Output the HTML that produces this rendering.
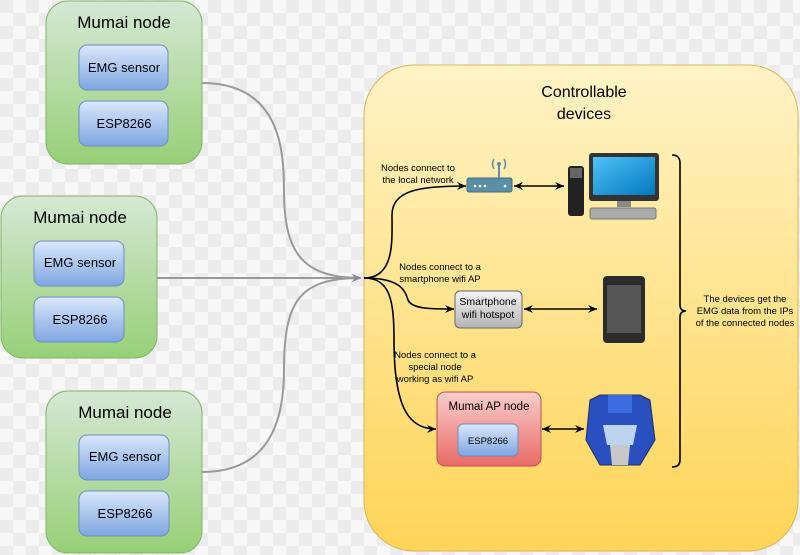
<!DOCTYPE html>
<html><head><meta charset="utf-8"><style>
html,body{margin:0;padding:0;width:800px;height:555px;overflow:hidden;background:#f4f4f4}
svg{display:block;font-family:"Liberation Sans",sans-serif}
</style></head><body>
<svg width="800" height="555" viewBox="0 0 800 555" xmlns="http://www.w3.org/2000/svg">
<defs>
<pattern id="ck" width="26" height="26" patternUnits="userSpaceOnUse">
<rect width="26" height="26" fill="#f7f7f7"/><rect width="13" height="13" fill="#ececec"/><rect x="13" y="13" width="13" height="13" fill="#ececec"/>
</pattern>
<linearGradient id="gn" x1="0" y1="0" x2="0" y2="1"><stop offset="0" stop-color="#d5e8d4"/><stop offset="1" stop-color="#97d077"/></linearGradient>
<linearGradient id="bl" x1="0" y1="0" x2="0" y2="1"><stop offset="0" stop-color="#dae8fc"/><stop offset="1" stop-color="#7ea6e0"/></linearGradient>
<linearGradient id="yl" x1="0" y1="0" x2="0" y2="1"><stop offset="0" stop-color="#fff3c6"/><stop offset="1" stop-color="#ffd457"/></linearGradient>
<linearGradient id="rd" x1="0" y1="0" x2="0" y2="1"><stop offset="0" stop-color="#f8cecc"/><stop offset="1" stop-color="#ea6b66"/></linearGradient>
<linearGradient id="gy" x1="0" y1="0" x2="0" y2="1"><stop offset="0" stop-color="#f5f5f5"/><stop offset="1" stop-color="#b3b3b3"/></linearGradient>
<linearGradient id="scr" x1="0" y1="0" x2="1" y2="1"><stop offset="0" stop-color="#4fc3f7"/><stop offset="1" stop-color="#0277bd"/></linearGradient>
<marker id="ga" markerWidth="10" markerHeight="10" refX="9" refY="5" orient="auto" markerUnits="userSpaceOnUse"><path d="M0,1 L9,5 L0,9 L3,5z" fill="#888"/></marker>
<marker id="ba" markerWidth="10" markerHeight="10" refX="9" refY="5" orient="auto" markerUnits="userSpaceOnUse"><path d="M0,1 L9,5 L0,9 L3,5z" fill="#000"/></marker>
<marker id="bs" markerWidth="10" markerHeight="10" refX="1" refY="5" orient="auto" markerUnits="userSpaceOnUse"><path d="M10,1 L1,5 L10,9 L7,5z" fill="#000"/></marker>
</defs>
<rect width="800" height="555" fill="url(#ck)"/>

<rect x="364" y="65" width="434" height="486" rx="50" fill="url(#yl)" stroke="#d6b656"/>
<text x="584" y="97" font-size="16" text-anchor="middle">Controllable</text>
<text x="584" y="119" font-size="16" text-anchor="middle">devices</text>

<g>
<rect x="46" y="1" width="156" height="163" rx="22" fill="url(#gn)" stroke="#82b366"/>
<text x="124" y="28" font-size="17" text-anchor="middle">Mumai node</text>
<rect x="79" y="45" width="89" height="45" rx="8" fill="url(#bl)" stroke="#6c8ebf"/>
<text x="124" y="72" font-size="13" text-anchor="middle">EMG sensor</text>
<rect x="79" y="101" width="89" height="45" rx="8" fill="url(#bl)" stroke="#6c8ebf"/>
<text x="124" y="128" font-size="13" text-anchor="middle">ESP8266</text>
</g>
<g>
<rect x="1" y="196" width="156" height="162" rx="22" fill="url(#gn)" stroke="#82b366"/>
<text x="80" y="223" font-size="17" text-anchor="middle">Mumai node</text>
<rect x="34" y="241" width="90" height="45" rx="8" fill="url(#bl)" stroke="#6c8ebf"/>
<text x="80" y="267" font-size="13" text-anchor="middle">EMG sensor</text>
<rect x="34" y="297" width="90" height="45" rx="8" fill="url(#bl)" stroke="#6c8ebf"/>
<text x="80" y="324" font-size="13" text-anchor="middle">ESP8266</text>
</g>
<g>
<rect x="46" y="391" width="156" height="162" rx="22" fill="url(#gn)" stroke="#82b366"/>
<text x="125" y="418" font-size="17" text-anchor="middle">Mumai node</text>
<rect x="79" y="435" width="90" height="45" rx="8" fill="url(#bl)" stroke="#6c8ebf"/>
<text x="125" y="461" font-size="13" text-anchor="middle">EMG sensor</text>
<rect x="79" y="491" width="90" height="45" rx="8" fill="url(#bl)" stroke="#6c8ebf"/>
<text x="125" y="518" font-size="13" text-anchor="middle">ESP8266</text>
</g>

<g fill="none" stroke="#999" stroke-width="2">
<path d="M202,83 C280,83 284,150 284,190 C284,250 300,278 361,278" marker-end="url(#ga)"/>
<path d="M157,278 L361,278" marker-end="url(#ga)"/>
<path d="M202,472 C270,472 284,420 284,370 C284,300 300,278 361,278" marker-end="url(#ga)"/>
</g>

<g fill="none" stroke="#000" stroke-width="1.6">
<path d="M364,278 C395,278 392,240 392,215 C392,190 420,186 466,186" marker-end="url(#ba)"/>
<path d="M364,278 C400,278 405,290 408,300 C412,309 430,309 454,309" marker-end="url(#ba)"/>
<path d="M364,278 C390,278 394,300 394,340 C394,410 410,429 436,429" marker-end="url(#ba)"/>
<path d="M514,186 L564,186" marker-start="url(#bs)" marker-end="url(#ba)"/>
<path d="M524,309 L597,309" marker-start="url(#bs)" marker-end="url(#ba)"/>
<path d="M542,429 L584,429" marker-start="url(#bs)" marker-end="url(#ba)"/>
<path d="M672,155 Q680,155 680,163 L680,305 Q680,311 686,311 Q680,311 680,317 L680,460 Q680,467 672,467"/>
</g>

<g font-size="9.5" text-anchor="middle">
<text x="418" y="171">Nodes connect to</text>
<text x="418" y="183">the local network</text>
<text x="440" y="270">Nodes connect to a</text>
<text x="440" y="282">smartphone wifi AP</text>
<text x="435" y="358">Nodes connect to a</text>
<text x="435" y="370">special node</text>
<text x="435" y="382">working as wifi AP</text>
<text x="745" y="302">The devices get the</text>
<text x="745" y="314">EMG data from the IPs</text>
<text x="745" y="326">of the connected nodes</text>
</g>

<rect x="467" y="178" width="45" height="14" rx="2" fill="#5b8fa8" stroke="#3d6c80"/>
<circle cx="475" cy="186" r="1.3" fill="#fff"/><circle cx="480" cy="186" r="1.3" fill="#fff"/><circle cx="485" cy="186" r="1.3" fill="#fff"/><circle cx="505" cy="186" r="1.3" fill="#fff"/>
<line x1="499" y1="178" x2="499" y2="165" stroke="#5b8fa8" stroke-width="2"/>
<circle cx="499" cy="164" r="2" fill="#5b8fa8"/>
<path d="M494,159 Q491,164 494,169 M504,159 Q507,164 504,169" stroke="#5b8fa8" fill="none" stroke-width="1.5"/>

<rect x="568" y="166" width="16" height="50" rx="3" fill="#222"/>
<rect x="570" y="168" width="12" height="10" fill="#666"/>
<rect x="589" y="153" width="70" height="48" rx="3" fill="#333"/>
<rect x="593" y="157" width="62" height="38" fill="url(#scr)"/>
<rect x="617" y="201" width="14" height="6" fill="#888"/>
<rect x="590" y="208" width="66" height="11" rx="2" fill="#aaa" stroke="#777"/>

<rect x="455" y="291" width="67" height="37" rx="5" fill="url(#gy)" stroke="#666"/>
<text x="488" y="305" font-size="10.5" text-anchor="middle">Smartphone</text>
<text x="488" y="318" font-size="10.5" text-anchor="middle">wifi hotspot</text>

<rect x="603" y="276" width="42" height="67" rx="4" fill="#2b2b2b"/>
<rect x="607" y="285" width="34" height="48" fill="#555"/>

<rect x="437" y="392" width="104" height="74" rx="8" fill="url(#rd)" stroke="#b85450"/>
<text x="489" y="410" font-size="11.5" text-anchor="middle">Mumai AP node</text>
<rect x="458" y="424" width="60" height="32" rx="5" fill="url(#bl)" stroke="#6c8ebf"/>
<text x="488" y="444" font-size="9.5" text-anchor="middle">ESP8266</text>

<path d="M590,400 L600,395 L640,395 L650,400 L655,440 L640,465 L600,465 L586,440z" fill="#2a4fbf" stroke="#14306f"/>
<rect x="608" y="395" width="24" height="18" fill="#3d6be0"/>
<path d="M603,425 L637,425 L633,445 L607,445z" fill="#bcd4f0"/>
<path d="M610,445 L630,445 L628,465 L612,465z" fill="#c8c8c8"/>
</svg>
</body></html>
